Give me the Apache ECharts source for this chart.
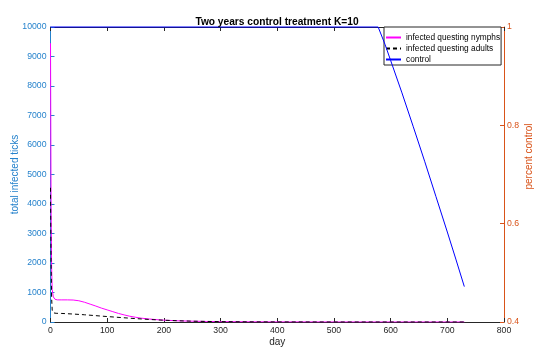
<!DOCTYPE html>
<html>
<head>
<meta charset="utf-8">
<script src="https://cdn.jsdelivr.net/npm/echarts@6/dist/echarts.min.js"></script>
<style>
  html, body { margin: 0; padding: 0; background: #fff; }
  #chart { width: 536px; height: 349px; }
</style>
</head>
<body>
<div id="chart"></div>
<script>
// Infected questing nymphs (left axis)
var nymphDays = [0, 1, 2, 3, 5, 8, 12, 20, 30, 40, 50, 60, 70, 80, 90, 100, 110, 120, 130, 140, 150, 160, 175, 190, 200, 225, 250, 275, 300, 350, 400, 500, 600, 730];
var nymphVals = [9450, 4000, 1800, 1100, 850, 770, 750, 750, 750, 745, 720, 670, 605, 540, 470, 410, 350, 290, 240, 195, 160, 130, 100, 75, 62, 40, 28, 18, 12, 6, 3, 1, 0, 0];

// Infected questing adults (left axis)
var adultDays = [0, 1, 2, 3, 5, 10, 20, 40, 60, 80, 100, 125, 150, 175, 200, 225, 250, 300, 350, 400, 500, 600, 730];
var adultVals = [4550, 2000, 800, 400, 310, 295, 290, 270, 245, 215, 185, 150, 115, 85, 60, 42, 28, 12, 5, 2, 0, 0, 0];

// Fraction of control (right axis)
var controlDays = [0, 578, 590, 600, 620, 640, 660, 680, 700, 715, 730];
var controlVals = [1, 1, 0.965, 0.932, 0.866, 0.797, 0.727, 0.655, 0.583, 0.528, 0.472];

// Axis tick definitions
var dayTicks = { min: 0, max: 800, interval: 100 };
var tickCountTicks = { min: 0, max: 10000, interval: 1000 };
var percentTicks = { min: 0.4, max: 1, interval: 0.2 };

function pairs(xs, ys) {
  return xs.map(function (x, i) { return [x, ys[i]]; });
}

var leftColor = '#2582cc';
var rightColor = '#D95319';
var frameColor = '#262626';
var fontFamily = '"Liberation Sans", Arial, Helvetica, sans-serif';

var chart = echarts.init(document.getElementById('chart'), null, { renderer: 'canvas' });

chart.setOption({
  animation: false,
  backgroundColor: '#ffffff',
  textStyle: { fontFamily: fontFamily },
  title: {
    text: 'Two years control treatment K=10',
    left: 272,
    textAlign: 'center',
    top: 12,
    textStyle: { fontSize: 10.2, fontWeight: 'bold', color: '#000', fontFamily: fontFamily }
  },
  grid: { left: 50.5, right: 32, top: 27, bottom: 27, containLabel: false, outerBoundsMode: 'none' },
  legend: {
    left: 384,
    top: 27,
    orient: 'vertical',
    backgroundColor: '#ffffff',
    borderColor: frameColor,
    borderWidth: 1,
    borderRadius: 0,
    padding: [5, 1, 0, 1],
    itemGap: 0,
    itemWidth: 15,
    itemHeight: 11,
    itemStyle: { opacity: 0 },
    textStyle: { fontSize: 8.3, color: '#000', lineHeight: 11, fontFamily: fontFamily },
    data: ['infected questing nymphs', 'infected questing adults', 'control']
  },
  xAxis: [
    {
      type: 'value',
      position: 'bottom',
      min: dayTicks.min, max: dayTicks.max, interval: dayTicks.interval,
      name: 'day',
      nameLocation: 'middle',
      nameMoveOverlap: false,
      nameGap: 15,
      nameTextStyle: { fontSize: 10, color: frameColor },
      axisLine: { show: true, onZero: false, lineStyle: { color: frameColor, width: 1 } },
      axisTick: { show: true, inside: true, length: 4, lineStyle: { color: frameColor } },
      axisLabel: { fontSize: 8.7, color: frameColor, margin: 4 },
      splitLine: { show: false }
    },
    {
      type: 'value',
      position: 'top',
      min: dayTicks.min, max: dayTicks.max, interval: dayTicks.interval,
      axisLine: { show: true, onZero: false, lineStyle: { color: frameColor, width: 1 } },
      axisTick: { show: true, inside: true, length: 4, lineStyle: { color: frameColor } },
      axisLabel: { show: false },
      splitLine: { show: false }
    }
  ],
  yAxis: [
    {
      type: 'value',
      position: 'left',
      min: tickCountTicks.min, max: tickCountTicks.max, interval: tickCountTicks.interval,
      name: 'total infected ticks',
      nameLocation: 'middle',
      nameRotate: 90,
      nameMoveOverlap: false,
      nameGap: 30,
      nameTextStyle: { fontSize: 10, color: leftColor },
      axisLine: { show: true, onZero: false, lineStyle: { color: leftColor, width: 1 } },
      axisTick: { show: true, inside: true, length: 4, lineStyle: { color: leftColor } },
      axisLabel: {
        fontSize: 8.7, color: leftColor, margin: 4,
        formatter: function (v) { return String(v); }
      },
      splitLine: { show: false }
    },
    {
      type: 'value',
      position: 'right',
      min: percentTicks.min, max: percentTicks.max, interval: percentTicks.interval,
      name: 'percent control',
      nameLocation: 'middle',
      nameRotate: 90,
      nameMoveOverlap: false,
      nameGap: 20,
      nameTextStyle: { fontSize: 10, color: rightColor, padding: [0, 0, 0, 36] },
      axisLine: { show: true, onZero: false, lineStyle: { color: rightColor, width: 1 } },
      axisTick: { show: true, inside: true, length: 4, lineStyle: { color: rightColor } },
      axisLabel: {
        fontSize: 8.7, color: rightColor, margin: 3,
        formatter: function (v) { return String(parseFloat(v.toFixed(1))); }
      },
      splitLine: { show: false }
    }
  ],
  series: [
    {
      name: 'infected questing nymphs',
      type: 'line',
      xAxisIndex: 0, yAxisIndex: 0,
      data: pairs(nymphDays, nymphVals),
      showSymbol: false, symbol: 'none',
      lineStyle: { color: '#ff00ff', width: 1 },
      itemStyle: { color: '#ff00ff' },
      z: 2
    },
    {
      name: 'infected questing adults',
      type: 'line',
      xAxisIndex: 0, yAxisIndex: 0,
      data: pairs(adultDays, adultVals),
      showSymbol: false, symbol: 'none',
      lineStyle: { color: '#000000', width: 1, type: [4, 3] },
      itemStyle: { color: '#000000' },
      z: 3
    },
    {
      name: 'control',
      type: 'line',
      xAxisIndex: 0, yAxisIndex: 1,
      data: pairs(controlDays, controlVals),
      showSymbol: false, symbol: 'none',
      clip: false,
      lineStyle: { color: '#0000ff', width: 1 },
      itemStyle: { color: '#0000ff' },
      z: 4
    }
  ]
});
</script>
</body>
</html>
